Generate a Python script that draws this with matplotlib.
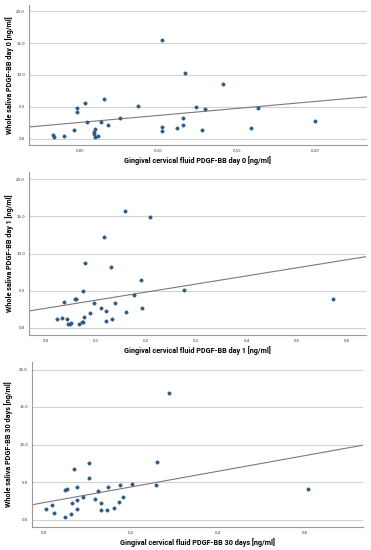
import matplotlib

matplotlib.use("Agg")
import matplotlib.pyplot as plt
import numpy as np

# day 0
gcf_day0 = [0.0326, 0.0336, 0.0398, 0.0464, 0.0483, 0.0483, 0.0532, 0.0543, 0.0589, 0.0591,
            0.0598, 0.0598, 0.0615, 0.0632, 0.0655, 0.0680, 0.0753, 0.0872, 0.1023, 0.1026,
            0.1026, 0.1121, 0.1157, 0.1157, 0.1172, 0.1238, 0.1277, 0.1296, 0.1413, 0.1591,
            0.1634, 0.2000]
saliva_day0 = [0.50, 0.26, 0.42, 1.30, 4.84, 4.21, 5.58, 2.65, 1.05, 0.79,
               1.58, 0.26, 0.37, 2.63, 6.28, 2.16, 3.32, 5.16, 15.53, 1.84,
               1.16, 1.68, 3.32, 2.10, 10.32, 5.00, 1.32, 4.68, 8.53, 1.63,
               4.74, 2.74]

# day 1
gcf_day1 = [0.0233, 0.0326, 0.0379, 0.0425, 0.0452, 0.0485, 0.0518, 0.0591, 0.0611, 0.0671,
            0.0731, 0.0751, 0.0757, 0.0771, 0.0791, 0.0884, 0.0963, 0.1103, 0.1176, 0.1203,
            0.1209, 0.1309, 0.1316, 0.1382, 0.1588, 0.1595, 0.1754, 0.1894, 0.1920, 0.2086,
            0.2751, 0.5728]
saliva_day1 = [1.21, 1.34, 3.49, 1.21, 0.49, 0.49, 0.67, 3.85, 3.80, 0.45,
               0.81, 4.97, 0.76, 1.43, 8.77, 1.97, 3.36, 2.64, 12.26, 2.28,
               0.89, 8.19, 1.16, 3.36, 15.79, 2.06, 4.38, 6.44, 2.60, 14.99,
               5.01, 3.89]

# 30 days
gcf_day30 = [0.0046, 0.0184, 0.0223, 0.0469, 0.0484, 0.0530, 0.0622, 0.0645, 0.0684, 0.0745,
             0.0760, 0.0760, 0.0891, 0.1029, 0.1029, 0.1175, 0.1229, 0.1306, 0.1313, 0.1452,
             0.1475, 0.1605, 0.1713, 0.1743, 0.1805, 0.2012, 0.2581, 0.2604, 0.2865, 0.6075]
saliva_day30 = [1.43, 1.96, 0.89, 0.31, 3.93, 4.06, 0.76, 2.23, 6.79, 4.33,
                2.59, 1.43, 2.95, 7.54, 5.49, 2.68, 3.79, 2.14, 1.25, 1.21,
                4.38, 1.56, 2.28, 4.55, 3.04, 4.73, 4.55, 7.68, 16.92, 4.02]

# fit lines: (intercept, slope)
fit_lines = [(1.45, 21.96), (2.60, 10.93), (2.26, 10.42)]
y_ticks = [0, 5, 10, 15, 20]
x_ticks = [[0.05, 0.10, 0.15, 0.20], [0.0, 0.1, 0.2, 0.3, 0.4, 0.5, 0.6], [0.0, 0.2, 0.4, 0.6]]
x_labels = ["Gingival cervical fluid PDGF-BB day 0 [ng/ml]",
            "Gingival cervical fluid PDGF-BB day 1 [ng/ml]",
            "Gingival cervical fluid PDGF-BB 30 days [ng/ml]"]
y_labels = ["Whole saliva PDGF-BB day 0 [ng/ml]",
            "Whole saliva PDGF-BB day 1 [ng/ml]",
            "Whole saliva PDGF-BB 30 days [ng/ml]"]

W, H = 371, 550
# axes boxes in pixels: left, top, right, bottom
boxes = [(29, 5, 367, 145), (29, 172, 366, 335), (32, 362, 363, 527)]
# label centres in pixels: ylabel x, xlabel y
label_pos = [(10, 161), (10, 351), (9, 543)]
x_limits = [(0.0174, 0.2332), (-0.0326, 0.638), (-0.0284, 0.7345)]
tick_fmt = ["{:.2f}", "{:.1f}", "{:.1f}"]

LABEL_FONT = ["Roboto", "DejaVu Sans"]
POINT_COLOR = "#2c5985"

fig = plt.figure(figsize=(W / 100, H / 100), dpi=100)

series = [(gcf_day0, saliva_day0), (gcf_day1, saliva_day1), (gcf_day30, saliva_day30)]
for i, (xs, ys) in enumerate(series):
    left, top, right, bottom = boxes[i]
    ax = fig.add_axes([left / W, 1 - bottom / H, (right - left) / W, (bottom - top) / H])
    ax.set_xlim(*x_limits[i])
    ax.set_ylim(-1.0, 21.0)
    for yt in y_ticks:
        ax.axhline(yt, color="#d2d2d2", linewidth=0.8, zorder=0)
    ax.scatter(xs, ys, s=6, color=POINT_COLOR, edgecolors=POINT_COLOR, linewidths=0.3, zorder=3)
    b0, b1 = fit_lines[i]
    lx = np.array(x_limits[i])
    ax.plot(lx, b0 + b1 * lx, color="#7a7a7a", linewidth=0.8, zorder=2)

    for side in ["top", "right"]:
        ax.spines[side].set_visible(False)
    for side in ["left", "bottom"]:
        ax.spines[side].set_color("#9a9a9a")
        ax.spines[side].set_linewidth(0.8)
    ax.set_yticks(y_ticks)
    ax.set_yticklabels([f"{v:.1f}" for v in y_ticks])
    ax.set_xticks(x_ticks[i])
    ax.set_xticklabels([tick_fmt[i].format(v) for v in x_ticks[i]])
    ax.tick_params(length=0, labelsize=2.8, colors="#333333", pad=3)

    ax.set_xlabel(x_labels[i], family=LABEL_FONT, fontweight="bold", fontsize=5.2, va="center")
    ax.set_ylabel(y_labels[i], family=LABEL_FONT, fontweight="bold", fontsize=5.2, va="center")
    lx_px, ly_px = label_pos[i]
    ax.yaxis.set_label_coords((lx_px - left) / (right - left), 0.5)
    ax.xaxis.set_label_coords(0.5, (bottom - ly_px) / (bottom - top))

fig.savefig("out.png", dpi=100)
